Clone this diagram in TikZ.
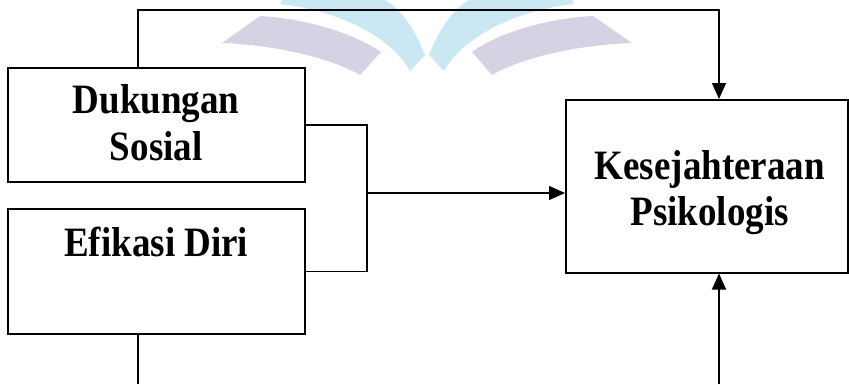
\documentclass[tikz,border=0pt]{standalone}
\usepackage{fontspec}
\setmainfont{Liberation Serif}
\usetikzlibrary{arrows.meta}
\definecolor{wmblue}{HTML}{C9E8F4}
\definecolor{wmlilac}{HTML}{D6D2E4}
\newcommand{\boxtext}[1]{\scalebox{1}[1.13]{\begin{tabular}{@{}c@{}}#1\end{tabular}}}
\newcommand{\lowered}[2]{\raisebox{-#1}[\height][\depth]{#2}}
\begin{document}
\begin{tikzpicture}[x=1pt,y=-1pt,
  varbox/.style={draw,line width=1.5pt,rectangle,anchor=north west,inner sep=0pt,
    font=\fontsize{37}{41}\selectfont\bfseries},
  link/.style={line width=1.5pt},
  arr/.style={line width=1.5pt,-{Triangle[length=16pt,width=14pt]}}]
\useasboundingbox (0,0) rectangle (849,384);

% faint emblem behind the diagram
\fill[wmlilac] (222,43) -- (260,16) .. controls (300,18) and (350,31) .. (381,52)
  -- (360,75) .. controls (335,60) and (280,45) .. (222,43) -- cycle;
\fill[wmlilac] (632,43) -- (593,16) .. controls (551,18) and (501,31) .. (472,52)
  -- (492,75) .. controls (517,60) and (572,45) .. (632,43) -- cycle;
\fill[wmblue] (280,4) .. controls (335,10) and (390,35) .. (410,71)
  -- (425,55) .. controls (415,30) and (402,10) .. (385,0) -- (282,0) -- cycle;
\fill[wmblue] (574,4) .. controls (519,10) and (464,35) .. (444,71)
  -- (429,55) .. controls (439,30) and (452,10) .. (469,0) -- (572,0) -- cycle;

% variables
\node[varbox,minimum width=297pt,minimum height=114pt] (dukungan) at (7,67)
  {\lowered{3pt}{\boxtext{Dukungan\\Sosial}}};
\node[varbox,minimum width=297pt,minimum height=125pt] (efikasi) at (7,208)
  {\lowered{-1pt}{\boxtext{Efikasi Diri\\\mbox{}}}};
\node[varbox,minimum width=282pt,minimum height=173pt] (kes) at (565,99)
  {\hspace*{6pt}\lowered{7pt}{\boxtext{Kesejahteraan\\Psikologis}}};

% routing points
\coordinate (tl) at (138,10);
\coordinate (tr) at (719,10);
\coordinate (bl) at (138,384);
\coordinate (br) at (719,384);
\coordinate (jx) at (367,193);

% connectors
\draw[arr] (dukungan.north -| tl) -- (tl) -- (tr) -- (kes.north -| tr);
\draw[link] (efikasi.south -| bl) -- (bl);
\draw[arr] (br) -- (kes.south -| br);
\draw[link] (dukungan.east) -| (jx) |- (efikasi.east);
\draw[arr] (jx) -- (jx -| kes.west);
\end{tikzpicture}
\end{document}
